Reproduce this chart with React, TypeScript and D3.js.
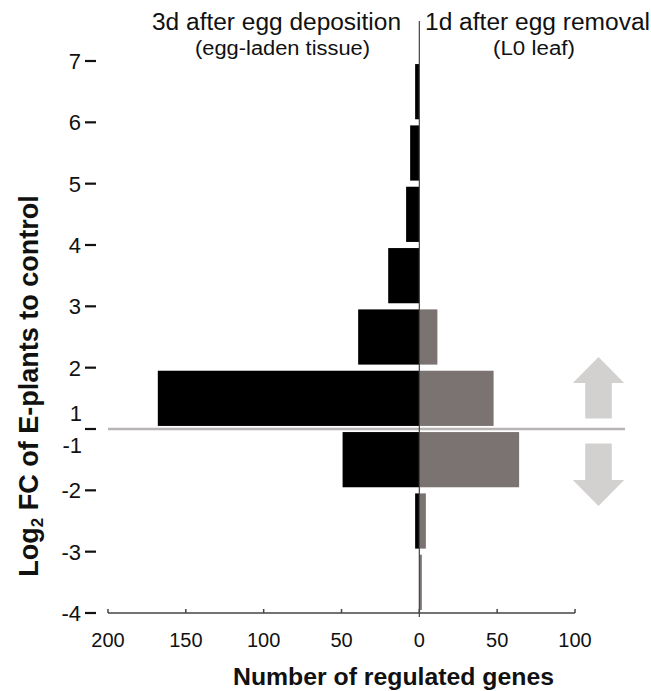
import React from "react";
import * as d3 from "d3";

// Log2 FC bins (top to bottom)
const bins = ["6-7", "5-6", "4-5", "3-4", "2-3", "1-2", "-1--2", "-2--3", "-3--4"];
// Number of regulated genes, 3d after egg deposition (egg-laden tissue) – drawn to the left
const eggDeposition = [2.7, 5.9, 8.5, 20, 39.3, 168, 49.3, 2.7, 0];
// Number of regulated genes, 1d after egg removal (L0 leaf) – drawn to the right
const eggRemoval = [0, 0, 0, 0, 11.6, 47.7, 64.1, 4.2, 1.6];
// Y tick labels at the bin boundaries (the zero boundary carries "1" above and "-1" below)
const yTickLabels = ["7", "6", "5", "4", "3", "2", "", "-2", "-3", "-4"];
const xTickValues = [-200, -150, -100, -50, 0, 50, 100];

const W = 651;
const H = 691;
const FONT = "'Liberation Sans', Arial, Helvetica, sans-serif";

export default function App() {
  const x = d3.scaleLinear().domain([-200, 100]).range([108, 575]);
  const y = d3.scaleBand<string>().domain(bins).range([61, 613]).paddingInner(0.1).paddingOuter(0.05);
  const step = y.step();
  const y0 = y(bins[0])! - (step * y.paddingInner()) / 2;
  const boundaryY = (i: number) => y0 + i * step;
  const zeroY = boundaryY(6);
  const axisY = boundaryY(9);
  const zx = x(0);

  const arrowCx = 598.5;
  const headHalf = 25.7;
  const shaftHalf = 13.3;

  return (
    <svg
      width={W}
      height={H}
      style={{ position: "absolute", left: 0, top: 0, background: "#fff" }}
      fontFamily={FONT}
    >
      {/* headers */}
      <text x={276.5} y={30} fontSize={23} textAnchor="middle" textLength={249} lengthAdjust="spacingAndGlyphs" fill="#111">
        3d after egg deposition
      </text>
      <text x={282.5} y={55} fontSize={20} textAnchor="middle" textLength={175} lengthAdjust="spacingAndGlyphs" fill="#111">
        (egg-laden tissue)
      </text>
      <text x={537.5} y={30} fontSize={23} textAnchor="middle" textLength={225} lengthAdjust="spacingAndGlyphs" fill="#111">
        1d after egg removal
      </text>
      <text x={534} y={55} fontSize={20} textAnchor="middle" textLength={82} lengthAdjust="spacingAndGlyphs" fill="#111">
        (L0 leaf)
      </text>

      {/* zero horizontal line */}
      <line x1={x(-200)} x2={625} y1={zeroY} y2={zeroY} stroke="#b9b5b5" strokeWidth={2.5} />

      {/* bars left */}
      {bins.map((b, i) =>
        eggDeposition[i] > 0 ? (
          <rect
            key={"l" + b}
            x={x(-eggDeposition[i])}
            y={y(b)!}
            width={zx - x(-eggDeposition[i])}
            height={y.bandwidth()}
            fill="#000"
          />
        ) : null
      )}
      {/* bars right */}
      {bins.map((b, i) =>
        eggRemoval[i] > 0 ? (
          <rect
            key={"r" + b}
            x={zx}
            y={y(b)!}
            width={x(eggRemoval[i]) - zx}
            height={y.bandwidth()}
            fill="#7b7372"
          />
        ) : null
      )}

      {/* vertical zero line */}
      <line x1={zx} x2={zx} y1={21} y2={axisY + 4} stroke="#444" strokeWidth={1.2} />

      {/* x axis */}
      <line x1={x(-200)} x2={x(100)} y1={axisY} y2={axisY} stroke="#444" strokeWidth={1.5} />
      {xTickValues.map((v) => (
        <g key={"xt" + v}>
          <line x1={x(v)} x2={x(v)} y1={axisY - 4} y2={axisY} stroke="#444" strokeWidth={1.5} />
          <text x={x(v)} y={647} fontSize={20} textAnchor="middle" fill="#111">
            {Math.abs(v)}
          </text>
        </g>
      ))}
      <text x={393.5} y={685} fontSize={23} fontWeight="bold" textAnchor="middle" textLength={321} lengthAdjust="spacingAndGlyphs" fill="#111">
        Number of regulated genes
      </text>

      {/* y ticks */}
      {yTickLabels.map((lab, i) => {
        const yy = boundaryY(i);
        return (
          <g key={"yt" + i}>
            <line x1={85} x2={96} y1={yy} y2={yy} stroke="#111" strokeWidth={2.2} />
            {lab !== "" ? (
              <text x={81} y={yy} dy="0.36em" fontSize={22} textAnchor="end" fill="#111">
                {lab}
              </text>
            ) : (
              <>
                <text x={82} y={yy - 16} dy="0.36em" fontSize={22} textAnchor="end" fill="#111">
                  1
                </text>
                <text x={82} y={yy + 16} dy="0.36em" fontSize={22} textAnchor="end" fill="#111">
                  -1
                </text>
              </>
            )}
          </g>
        );
      })}

      {/* y axis title */}
      <text
        transform={`translate(38, ${386}) rotate(-90)`}
        fontSize={27}
        fontWeight="bold"
        textAnchor="middle"
        fill="#111"
      >
        Log<tspan fontSize={17} dy={5}>2</tspan>
        <tspan dy={-5}> FC of E-plants to control</tspan>
      </text>

      {/* arrows */}
      <g fill="#d3d1d0">
        <polygon
          points={`${arrowCx - headHalf},${zeroY - 46} ${arrowCx},${zeroY - 72} ${arrowCx + headHalf},${zeroY - 46}`}
        />
        <rect x={arrowCx - shaftHalf} y={zeroY - 46.5} width={shaftHalf * 2} height={36} />
        <rect x={arrowCx - shaftHalf} y={zeroY + 14.5} width={shaftHalf * 2} height={37} />
        <polygon
          points={`${arrowCx - headHalf},${zeroY + 51} ${arrowCx + headHalf},${zeroY + 51} ${arrowCx},${zeroY + 77}`}
        />
      </g>
    </svg>
  );
}
